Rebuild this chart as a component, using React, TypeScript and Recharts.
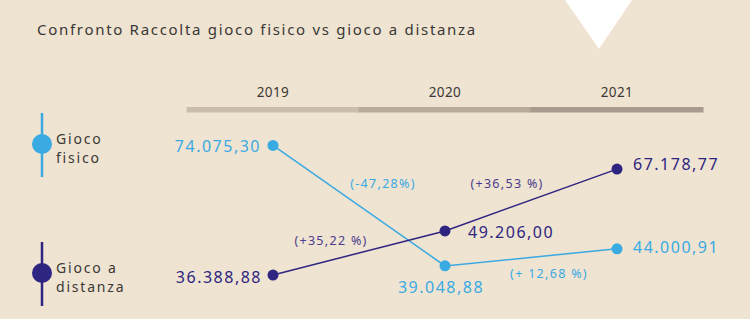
import { LabelList, Line, LineChart, XAxis, YAxis } from "recharts";

const YEARS = ["2019", "2020", "2021"];
const FISICO = [74075.3, 39048.88, 44000.91];
const DISTANZA = [36388.88, 49206.0, 67178.77];
const FISICO_CHANGE = ["", "(-47,28%)", "(+ 12,68 %)"];
const DISTANZA_CHANGE = ["", "(+35,22 %)", "(+36,53 %)"];

const CYAN = "#3aaae2";
const PURPLE = "#2e2580";
const PURPLE_SOFT = "#4b3c8c";
const BG = "#efe3d2";
const INK = "#3a3936";
const BAR_COLORS = ["#cbbdae", "#b9ab9c", "#a99b8e"];
const FONT = "'Noto Sans', sans-serif";
const SEG_W = 173;

const data = YEARS.map((year, i) => ({
  year,
  fisico: FISICO[i],
  distanza: DISTANZA[i],
  fisicoChange: FISICO_CHANGE[i],
  distanzaChange: DISTANZA_CHANGE[i],
}));

// label placement relative to its dot
type Place = { dx: number; dy: number; anchor: "start" | "middle" | "end" };
const FISICO_VALUE_AT: Place[] = [
  { dx: -12, dy: 1, anchor: "end" },
  { dx: -4, dy: 21, anchor: "middle" },
  { dx: 16, dy: -2, anchor: "start" },
];
const DISTANZA_VALUE_AT: Place[] = [
  { dx: -11, dy: 1.5, anchor: "end" },
  { dx: 23, dy: 1, anchor: "start" },
  { dx: 16, dy: -5, anchor: "start" },
];
const FISICO_CHANGE_AT: Place[] = [
  { dx: 0, dy: 0, anchor: "middle" },
  { dx: -62, dy: -82, anchor: "middle" },
  { dx: -68, dy: 25, anchor: "middle" },
];
const DISTANZA_CHANGE_AT: Place[] = [
  { dx: 0, dy: 0, anchor: "middle" },
  { dx: -114, dy: 10, anchor: "middle" },
  { dx: -110, dy: 14, anchor: "middle" },
];

const LEGEND = [
  { lines: ["Gioco", "fisico"], color: CYAN, top: 113 },
  { lines: ["Gioco a", "distanza"], color: PURPLE, top: 242 },
];

function formatIt(v: number) {
  const [int, dec] = v.toFixed(2).split(".");
  return int.replace(/\B(?=(\d{3})+(?!\d))/g, ".") + "," + dec;
}

function labelAt(places: Place[], color: string, size: number, spacing: number, fmt?: (v: number) => string) {
  return (props: any) => {
    const x = props.x ?? props.viewBox?.x;
    const y = props.y ?? props.viewBox?.y;
    const { value, index } = props;
    if (value === "" || value == null) return null;
    const p = places[index];
    return (
      <text
        x={x + p.dx}
        y={y + p.dy}
        textAnchor={p.anchor}
        dominantBaseline="central"
        fill={color}
        fontSize={size}
        letterSpacing={spacing}
        fontFamily={FONT}
      >
        {fmt ? fmt(value) : value}
      </text>
    );
  };
}

function YearTick(props: any) {
  const { x, y, payload, index } = props;
  return (
    <g>
      <rect x={x - SEG_W / 2} y={y - 18} width={SEG_W} height={5.5} fill={BAR_COLORS[index]} />
      <text x={x} y={y - 33} textAnchor="middle" dominantBaseline="central" fontSize={13.5} letterSpacing={0.4} fill={INK} fontFamily={FONT}>
        {payload.value}
      </text>
    </g>
  );
}

export default function App() {
  return (
    <div style={{ position: "absolute", left: 0, top: 0, width: 750, height: 319, background: BG, overflow: "hidden" }}>
      <svg width={750} height={319} style={{ position: "absolute", left: 0, top: 0 }}>
        <polygon points="565,0 632,0 599,49" fill="#ffffff" />
        <text x={37} y={29} dominantBaseline="central" fontSize={15} letterSpacing={1.7} fill={INK} fontFamily={FONT}>
          Confronto Raccolta gioco fisico vs gioco a distanza
        </text>
        {LEGEND.map((s) => (
          <g key={s.lines[0] + s.lines[1]}>
            <line x1={42} x2={42} y1={s.top} y2={s.top + 64} stroke={s.color} strokeWidth={2.5} />
            <circle cx={42} cy={s.top + 31} r={10} fill={s.color} />
            {s.lines.map((t, i) => (
              <text
                key={t}
                x={56}
                y={s.top + 25.5 + i * 19}
                dominantBaseline="central"
                fontSize={14}
                letterSpacing={1.8}
                fill={INK}
                fontFamily={FONT}
              >
                {t}
              </text>
            ))}
          </g>
        ))}
      </svg>
      <div style={{ position: "absolute", left: 0, top: 0 }}>
        <LineChart width={750} height={319} data={data} margin={{ top: 85, right: 45.5, bottom: 22, left: 185.5 }}>
          <XAxis
            dataKey="year"
            orientation="top"
            height={40}
            axisLine={false}
            tickLine={false}
            tickSize={0}
            tickMargin={0}
            padding={{ left: 87.5, right: 87.5 }}
            tick={<YearTick />}
            interval={0}
          />
          <YAxis hide type="number" domain={[30000, 80000]} />
          <Line
            dataKey="fisico"
            stroke={CYAN}
            strokeWidth={1.5}
            dot={{ r: 5.5, fill: CYAN, stroke: "none" }}
            activeDot={false}
            isAnimationActive={false}
          >
            <LabelList dataKey="fisico" content={labelAt(FISICO_VALUE_AT, CYAN, 16, 1.5, formatIt)} />
            <LabelList dataKey="fisicoChange" content={labelAt(FISICO_CHANGE_AT, CYAN, 12.5, 1.3)} />
          </Line>
          <Line
            dataKey="distanza"
            stroke={PURPLE}
            strokeWidth={1.5}
            dot={{ r: 5.5, fill: PURPLE, stroke: "none" }}
            activeDot={false}
            isAnimationActive={false}
          >
            <LabelList dataKey="distanza" content={labelAt(DISTANZA_VALUE_AT, PURPLE, 16, 1.5, formatIt)} />
            <LabelList dataKey="distanzaChange" content={labelAt(DISTANZA_CHANGE_AT, PURPLE_SOFT, 12.5, 1.3)} />
          </Line>
        </LineChart>
      </div>
    </div>
  );
}
